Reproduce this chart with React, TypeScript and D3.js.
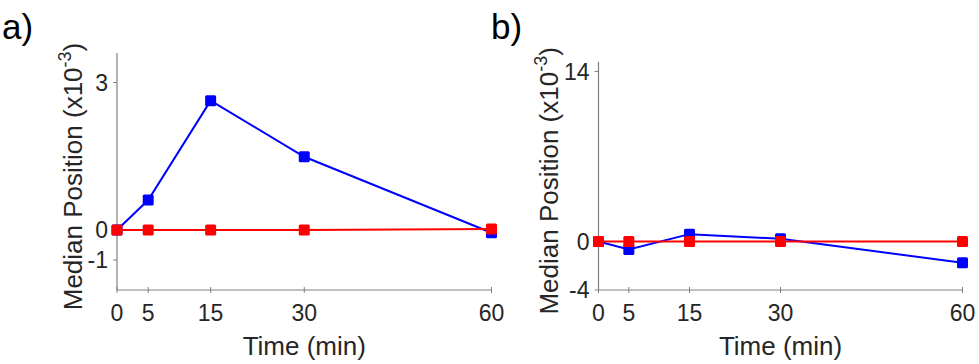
import * as d3 from 'd3';

const times = [0, 5, 15, 30, 60];

// panel a (x10^-3)
const aBlue = [0, 0.61, 2.63, 1.49, -0.09];
const aRed = [0, 0, 0, 0, 0.02];
const aTicks = [-1, 0, 3];

// panel b (x10^-3)
const bBlue = [0, -0.66, 0.6, 0.22, -1.76];
const bRed = [0, 0, 0, 0, 0];
const bTicks = [-4, 0, 14];

const font = 'Liberation Sans, Arial, sans-serif';
const axisColor = '#808080';
const textColor = '#262626';

type PanelProps = {
  label: string;
  labelX: number;
  x: d3.ScaleLinear<number, number>;
  y: d3.ScaleLinear<number, number>;
  yTicks: number[];
  blue: number[];
  red: number[];
  titleX: number;
};

function Panel({ label, labelX, x, y, yTicks, blue, red, titleX }: PanelProps) {
  const [x0, x1] = x.range();
  const dom = y.domain();
  const yBottom = y(dom[0]);
  const yTop = y(dom[dom.length - 1]);

  const line = d3
    .line<number>()
    .x((_, i) => x(times[i]))
    .y((d) => y(d));

  const markers = (vals: number[], color: string) =>
    vals.map((v, i) => (
      <rect
        key={color + i}
        x={x(times[i]) - 5.5}
        y={y(v) - 5.5}
        width={11}
        height={11}
        rx={1.5}
        fill={color}
      />
    ));

  const midY = (yBottom + yTop) / 2 + 5;

  return (
    <g>
      <text x={labelX} y={39} fontFamily={font} fontSize={35} fill="#000">
        {label}
      </text>
      {/* axes */}
      <line x1={x0} x2={x0} y1={yTop} y2={yBottom} stroke={axisColor} strokeWidth={1.2} />
      <line x1={x0} x2={x1} y1={yBottom} y2={yBottom} stroke={axisColor} strokeWidth={1.2} />
      {yTicks.map((t) => (
        <g key={'y' + t}>
          <line x1={x0 - 4} x2={x0} y1={y(t)} y2={y(t)} stroke={axisColor} />
          <text
            x={x0 - 9}
            y={y(t)}
            dy="0.36em"
            textAnchor="end"
            fontFamily={font}
            fontSize={23}
            fill={textColor}
          >
            {t}
          </text>
        </g>
      ))}
      {times.map((t) => (
        <g key={'x' + t}>
          <line x1={x(t)} x2={x(t)} y1={yBottom - 3} y2={yBottom + 3} stroke={axisColor} />
          <text
            x={x(t)}
            y={321}
            textAnchor="middle"
            fontFamily={font}
            fontSize={23}
            fill={textColor}
          >
            {t}
          </text>
        </g>
      ))}
      <text
        x={(x0 + x1) / 2}
        y={355}
        textAnchor="middle"
        fontFamily={font}
        fontSize={26}
        fill={textColor}
      >
        Time (min)
      </text>
      <text
        transform={`translate(${titleX},${midY}) rotate(-90)`}
        textAnchor="middle"
        fontFamily={font}
        fontSize={26}
        fill={textColor}
      >
        Median Position (x10
        <tspan dy={-11} fontSize={18}>
          -3
        </tspan>
        <tspan dy={11}>)</tspan>
      </text>
      {/* series */}
      <path d={line(blue) ?? ''} fill="none" stroke="#0000ff" strokeWidth={2} />
      {markers(blue, '#0000ff')}
      <path d={line(red) ?? ''} fill="none" stroke="#ff0000" strokeWidth={2} />
      {markers(red, '#ff0000')}
    </g>
  );
}

export default function App() {
  const xa = d3.scaleLinear().domain([0, 60]).range([117, 491.5]);
  const ya = d3.scaleLinear().domain([-2, -1, 0, 3.6]).range([290, 260, 230, 53]);
  const xb = d3.scaleLinear().domain([0, 60]).range([598.5, 962.5]);
  const yb = d3.scaleLinear().domain([-4, 14.8]).range([290, 61.7]);

  return (
    <svg
      width={979}
      height={364}
      style={{ position: 'absolute', left: 0, top: 0, background: '#fff' }}
    >
      <Panel
        label="a)"
        labelX={2}
        x={xa}
        y={ya}
        yTicks={aTicks}
        blue={aBlue}
        red={aRed}
        titleX={82}
      />
      <Panel
        label="b)"
        labelX={491}
        x={xb}
        y={yb}
        yTicks={bTicks}
        blue={bBlue}
        red={bRed}
        titleX={558}
      />
    </svg>
  );
}
